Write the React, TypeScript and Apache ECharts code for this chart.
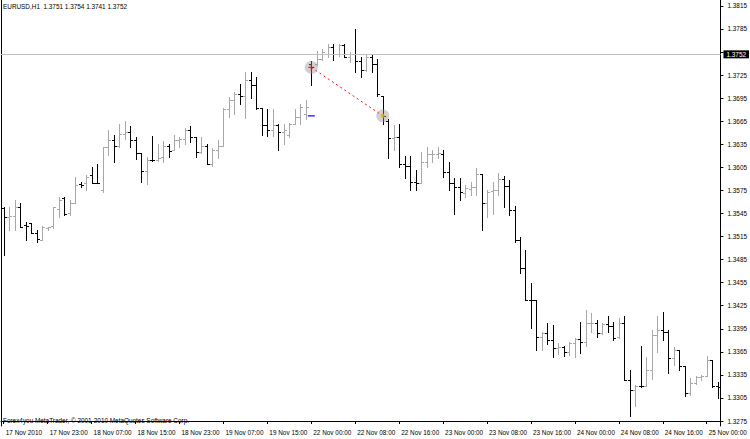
import React, { useEffect, useRef } from "react";
import * as echarts from "echarts";

// ---- data (EURUSD H1) ----
const symbolHeader = "EURUSD,H1  1.3751 1.3754 1.3741 1.3752";
const copyright = "Forex4you MetaTrader, \u00A9 2001-2010 MetaQuotes Software Corp.";

// trading sessions: [day label, first hour, bar count]
const sessions: [string, number, number][] = [
  ["17 Nov", 15, 9],
  ["18 Nov", 0, 24],
  ["19 Nov", 0, 23],
  ["22 Nov", 0, 24],
  ["23 Nov", 0, 24],
  ["24 Nov", 0, 24],
  ["25 Nov", 0, 3],
];

const tickLabels = [
  "17 Nov 2010", "17 Nov 23:00", "18 Nov 07:00", "18 Nov 15:00", "18 Nov 23:00",
  "19 Nov 07:00", "19 Nov 15:00", "22 Nov 00:00", "22 Nov 08:00", "22 Nov 16:00",
  "23 Nov 00:00", "23 Nov 08:00", "23 Nov 16:00", "24 Nov 00:00", "24 Nov 08:00",
  "24 Nov 16:00", "25 Nov 00:00",
];

const openP = [
  1.3552, 1.3540, 1.3542, 1.3553, 1.3530, 1.3532, 1.3519, 1.3511, 1.3526, 1.3529,
  1.3551, 1.3565, 1.3545, 1.3559, 1.3583, 1.3584, 1.3595, 1.3585, 1.3576, 1.3631,
  1.3640, 1.3633, 1.3649, 1.3651, 1.3641, 1.3624, 1.3600, 1.3615, 1.3615, 1.3618,
  1.3633, 1.3628, 1.3641, 1.3642, 1.3654, 1.3644, 1.3625, 1.3633, 1.3609, 1.3628,
  1.3633, 1.3681, 1.3692, 1.3701, 1.3698, 1.3718, 1.3712, 1.3682, 1.3660, 1.3654,
  1.3660, 1.3651, 1.3647, 1.3662, 1.3670, 1.3674, 1.3740, 1.3740, 1.3746, 1.3752,
  1.3762, 1.3752, 1.3764, 1.3749, 1.3753, 1.3743, 1.3732, 1.3748, 1.3740, 1.3698,
  1.3665, 1.3643, 1.3645, 1.3609, 1.3607, 1.3586, 1.3585, 1.3612, 1.3622, 1.3623,
  1.3623, 1.3599, 1.3585, 1.3580, 1.3571, 1.3577, 1.3579, 1.3596, 1.3558, 1.3574,
  1.3576, 1.3590, 1.3581, 1.3550, 1.3510, 1.3474, 1.3433, 1.3432, 1.3384, 1.3390,
  1.3381, 1.3370, 1.3371, 1.3365, 1.3377, 1.3382, 1.3378, 1.3402, 1.3403, 1.3390,
  1.3401, 1.3398, 1.3384, 1.3402, 1.3328, 1.3315, 1.3320, 1.3320, 1.3341, 1.3387,
  1.3394, 1.3391, 1.3357, 1.3368, 1.3346, 1.3311, 1.3324, 1.3332, 1.3334, 1.3355,
  1.3320,
];
const highP = [
  1.3554, 1.3554, 1.3563, 1.3558, 1.3534, 1.3533, 1.3524, 1.3529, 1.3528, 1.3554,
  1.3567, 1.3567, 1.3563, 1.3593, 1.3586, 1.3595, 1.3605, 1.3609, 1.3632, 1.3654,
  1.3647, 1.3662, 1.3665, 1.3659, 1.3644, 1.3624, 1.3619, 1.3646, 1.3635, 1.3639,
  1.3636, 1.3647, 1.3644, 1.3656, 1.3659, 1.3645, 1.3644, 1.3635, 1.3630, 1.3641,
  1.3682, 1.3696, 1.3703, 1.3714, 1.3729, 1.3729, 1.3723, 1.3682, 1.3681, 1.3681,
  1.3662, 1.3661, 1.3663, 1.3681, 1.3687, 1.3693, 1.3743, 1.3756, 1.3759, 1.3765,
  1.3766, 1.3766, 1.3765, 1.3755, 1.3785, 1.3749, 1.3752, 1.3751, 1.3746, 1.3698,
  1.3668, 1.3660, 1.3661, 1.3620, 1.3620, 1.3602, 1.3625, 1.3631, 1.3628, 1.3631,
  1.3628, 1.3612, 1.3591, 1.3591, 1.3582, 1.3586, 1.3604, 1.3596, 1.3575, 1.3586,
  1.3597, 1.3594, 1.3589, 1.3555, 1.3514, 1.3497, 1.3454, 1.3432, 1.3391, 1.3403,
  1.3400, 1.3376, 1.3372, 1.3378, 1.3383, 1.3404, 1.3420, 1.3416, 1.3407, 1.3402,
  1.3411, 1.3404, 1.3409, 1.3411, 1.3341, 1.3322, 1.3372, 1.3358, 1.3394, 1.3411,
  1.3417, 1.3394, 1.3371, 1.3368, 1.3346, 1.3331, 1.3334, 1.3335, 1.3359, 1.3355,
  1.3326,
];
const lowP = [
  1.3491, 1.3524, 1.3523, 1.3527, 1.3511, 1.3519, 1.3508, 1.3511, 1.3524, 1.3526,
  1.3541, 1.3543, 1.3543, 1.3558, 1.3580, 1.3576, 1.3584, 1.3584, 1.3573, 1.3621,
  1.3612, 1.3632, 1.3642, 1.3631, 1.3616, 1.3586, 1.3583, 1.3613, 1.3613, 1.3612,
  1.3619, 1.3628, 1.3632, 1.3636, 1.3638, 1.3619, 1.3624, 1.3609, 1.3607, 1.3617,
  1.3633, 1.3671, 1.3675, 1.3688, 1.3669, 1.3695, 1.3681, 1.3647, 1.3646, 1.3646,
  1.3628, 1.3636, 1.3645, 1.3662, 1.3662, 1.3668, 1.3712, 1.3738, 1.3745, 1.3749,
  1.3745, 1.3750, 1.3748, 1.3742, 1.3729, 1.3723, 1.3730, 1.3729, 1.3698, 1.3662,
  1.3617, 1.3628, 1.3606, 1.3591, 1.3576, 1.3576, 1.3584, 1.3606, 1.3612, 1.3617,
  1.3593, 1.3576, 1.3544, 1.3563, 1.3567, 1.3569, 1.3569, 1.3524, 1.3541, 1.3544,
  1.3569, 1.3554, 1.3543, 1.3508, 1.3468, 1.3433, 1.3396, 1.3367, 1.3368, 1.3375,
  1.3358, 1.3362, 1.3360, 1.3361, 1.3358, 1.3363, 1.3373, 1.3391, 1.3384, 1.3388,
  1.3391, 1.3380, 1.3383, 1.3328, 1.3282, 1.3295, 1.3319, 1.3320, 1.3330, 1.3365,
  1.3380, 1.3337, 1.3348, 1.3341, 1.3308, 1.3309, 1.3323, 1.3328, 1.3333, 1.3319,
  1.3305,
];
const closeP = [
  1.3541, 1.3542, 1.3553, 1.3528, 1.3529, 1.3520, 1.3512, 1.3528, 1.3527, 1.3553,
  1.3563, 1.3544, 1.3559, 1.3582, 1.3582, 1.3593, 1.3585, 1.3584, 1.3631, 1.3640,
  1.3633, 1.3648, 1.3651, 1.3641, 1.3624, 1.3600, 1.3615, 1.3614, 1.3617, 1.3633,
  1.3626, 1.3641, 1.3642, 1.3654, 1.3644, 1.3625, 1.3633, 1.3609, 1.3628, 1.3633,
  1.3681, 1.3692, 1.3701, 1.3698, 1.3718, 1.3712, 1.3682, 1.3660, 1.3654, 1.3660,
  1.3651, 1.3653, 1.3662, 1.3670, 1.3683, 1.3684, 1.3736, 1.3746, 1.3755, 1.3762,
  1.3752, 1.3764, 1.3749, 1.3753, 1.3743, 1.3732, 1.3748, 1.3740, 1.3700, 1.3672,
  1.3643, 1.3644, 1.3609, 1.3607, 1.3586, 1.3585, 1.3612, 1.3622, 1.3623, 1.3624,
  1.3599, 1.3585, 1.3580, 1.3573, 1.3578, 1.3579, 1.3596, 1.3558, 1.3573, 1.3576,
  1.3590, 1.3581, 1.3550, 1.3510, 1.3474, 1.3433, 1.3432, 1.3384, 1.3390, 1.3381,
  1.3370, 1.3371, 1.3365, 1.3377, 1.3382, 1.3378, 1.3402, 1.3403, 1.3390, 1.3401,
  1.3398, 1.3383, 1.3402, 1.3328, 1.3315, 1.3320, 1.3320, 1.3341, 1.3387, 1.3394,
  1.3391, 1.3357, 1.3368, 1.3346, 1.3311, 1.3324, 1.3332, 1.3334, 1.3355, 1.3320,
  1.3319,
];

const currentPrice = 1.3752;
// trade marks: [bar index, price]
const tradeOpen: [number, number] = [56, 1.3735];
const tradeClose: [number, number] = [69, 1.3672];
const blueMark: [number, number] = [56, 1.3672];

// axis range / grid step (prices)
const yBase = 1.3275;
const yStep = 0.003;
const yTop = 1.38227;
const yBottom = 1.32685;

// ---- helpers ----
const toV = (p: number) => Math.round((p - yBase) * 100000) / 10; // tenth-pips from base
const FONT = "'Liberation Sans', Arial, sans-serif";

const categories: string[] = [];
sessions.forEach(([day, h0, n]) => {
  for (let k = 0; k < n; k++) {
    const h = h0 + k;
    categories.push(`${day} ${h < 10 ? "0" + h : h}:00`);
  }
});

const ohlcRows = openP.map((o, i) => [i, toV(o), toV(closeP[i]), toV(lowP[i]), toV(highP[i])]);

export default function App() {
  const ref = useRef<HTMLDivElement>(null);
  useEffect(() => {
    if (!ref.current) return;
    const chart = echarts.init(ref.current, undefined, { renderer: "svg" });
    const stepV = yStep * 10000;
    const yAxisBase = {
      type: "value",
      min: toV(yBottom),
      max: toV(yTop),
      splitNumber: 18,
      minInterval: stepV,
      maxInterval: stepV,
      splitLine: { show: false },
    };
    const option: any = {
      animation: false,
      backgroundColor: "#ffffff",
      textStyle: { fontFamily: FONT },
      title: [
        {
          text: symbolHeader,
          left: 3,
          top: 3,
          padding: 0,
          textStyle: { fontSize: 6.4, fontWeight: "normal", color: "#000", fontFamily: FONT },
        },
        {
          text: copyright,
          left: 3,
          top: 417,
          padding: 0,
          textStyle: { fontSize: 6.4, fontWeight: "normal", color: "#000", fontFamily: FONT },
        },
      ],
      grid: { left: 1, right: 27, top: 0, bottom: 13, containLabel: false },
      xAxis: {
        type: "category",
        data: categories,
        boundaryGap: true,
        axisLine: { show: true, lineStyle: { color: "#000", width: 1 } },
        axisTick: {
          show: true,
          alignWithLabel: true,
          length: 3,
          interval: (i: number) => i % 8 === 0,
          lineStyle: { color: "#000" },
        },
        axisLabel: {
          interval: (i: number) => i % 8 === 0,
          formatter: (_v: string, i: number) => (i % 8 === 0 ? tickLabels[i / 8] : ""),
          align: "left",
          margin: 3,
          padding: [0, 0, 0, 2],
          fontSize: 6.4,
          color: "#000",
          fontFamily: FONT,
        },
        splitLine: { show: false },
      },
      yAxis: [
        {
          ...yAxisBase,
          position: "right",
          axisLine: { show: true, lineStyle: { color: "#000", width: 1 } },
          axisTick: { show: true, length: 3, lineStyle: { color: "#000" } },
          axisLabel: {
            margin: 7,
            fontSize: 6.4,
            color: "#000",
            fontFamily: FONT,
            showMinLabel: false,
            showMaxLabel: false,
            formatter: (v: number) => {
              const r = v / stepV;
              if (Math.abs(r - Math.round(r)) > 1e-6) return "";
              const p = yBase + v / 10000;
              // the current-price box covers the grid label next to it
              if (Math.abs(p - currentPrice) < 0.0008) return "";
              return p.toFixed(4);
            },
          },
        },
        {
          ...yAxisBase,
          position: "left",
          axisLine: { show: true, lineStyle: { color: "#000", width: 1 } },
          axisTick: { show: false },
          axisLabel: { show: false },
        },
      ],
      series: [
        {
          type: "line",
          data: [[0, toV(currentPrice)]],
          symbol: "none",
          lineStyle: { width: 0 },
          silent: true,
          z: 1,
          markLine: {
            silent: true,
            symbol: ["none", "none"],
            lineStyle: { color: "#c0c0c0", type: "solid", width: 1 },
            label: {
              show: true,
              position: "end",
              distance: 3,
              formatter: currentPrice.toFixed(4),
              color: "#fff",
              backgroundColor: "#000",
              padding: [1, 3, 1, 3],
              fontSize: 6.4,
              fontFamily: FONT,
            },
            data: [{ yAxis: toV(currentPrice) }],
          },
        },
        {
          type: "custom",
          z: 2,
          data: ohlcRows,
          encode: { x: 0, y: [1, 2, 3, 4] },
          renderItem: (_params: any, api: any) => {
            const i = api.value(0);
            const o = api.value(1);
            const c = api.value(2);
            const pO = api.coord([i, o]);
            const pC = api.coord([i, c]);
            const pL = api.coord([i, api.value(3)]);
            const pH = api.coord([i, api.value(4)]);
            const x = Math.round(pO[0]) + 0.5;
            const yo = Math.round(pO[1]) + 0.5;
            const yc = Math.round(pC[1]) + 0.5;
            const yh = Math.round(pH[1]);
            const yl = Math.round(pL[1]) + 1;
            const color = c > o ? "#a8a8a8" : "#000000";
            const st = { stroke: color, lineWidth: 1 };
            return {
              type: "group",
              children: [
                { type: "line", shape: { x1: x, y1: yh, x2: x, y2: yl }, style: st },
                { type: "line", shape: { x1: x - 2.5, y1: yo, x2: x - 0.5, y2: yo }, style: st },
                { type: "line", shape: { x1: x + 0.5, y1: yc, x2: x + 2.5, y2: yc }, style: st },
              ],
            };
          },
        },
        {
          type: "line",
          z: 3,
          data: [
            [tradeOpen[0], toV(tradeOpen[1])],
            [tradeClose[0], toV(tradeClose[1])],
          ],
          symbol: "none",
          lineStyle: { color: "#ff0000", width: 1, type: [2, 3] },
          silent: true,
        },
        {
          type: "scatter",
          z: 4,
          data: [
            [tradeOpen[0], toV(tradeOpen[1])],
            [tradeClose[0], toV(tradeClose[1])],
          ],
          symbol: "circle",
          symbolSize: 13,
          itemStyle: { color: "rgba(150,150,150,0.55)" },
          silent: true,
        },
        {
          type: "scatter",
          z: 5,
          data: [[tradeOpen[0], toV(tradeOpen[1])]],
          symbol: "path://M2,0H3V2H5V3H3V5H2V3H0V2H2Z",
          symbolSize: 6,
          itemStyle: { color: "#ff0000" },
          silent: true,
        },
        {
          type: "scatter",
          z: 5,
          data: [[tradeClose[0], toV(tradeClose[1])]],
          symbol: "circle",
          symbolSize: 4,
          itemStyle: { color: "#ffa500" },
          silent: true,
        },
        {
          type: "scatter",
          z: 5,
          data: [[blueMark[0], toV(blueMark[1])]],
          symbol: "rect",
          symbolSize: [7, 1.5],
          itemStyle: { color: "#0000ff" },
          silent: true,
        },
      ],
    };
    chart.setOption(option);
    return () => chart.dispose();
  }, []);
  return (
    <div
      ref={ref}
      style={{ position: "fixed", left: 0, top: 0, width: 750, height: 439, background: "#fff" }}
    />
  );
}
